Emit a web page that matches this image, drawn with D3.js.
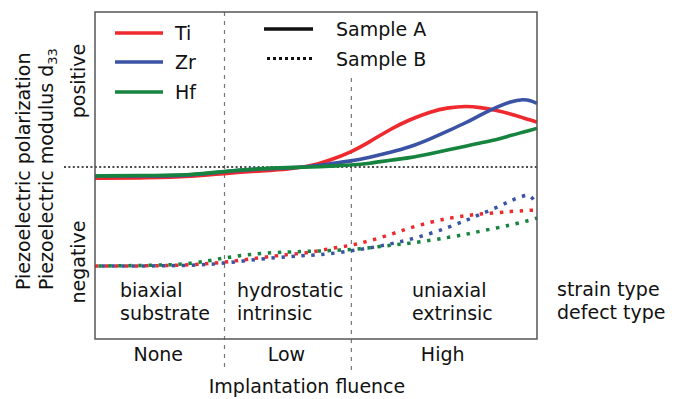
<!DOCTYPE html>
<html>
<head>
<meta charset="utf-8">
<script src="https://cdn.jsdelivr.net/npm/d3@7"></script>
<style>
  body { margin: 0; background: #fff; }
  text { font-family: "DejaVu Sans", Verdana, sans-serif; font-size: 19px; fill: #111; }
</style>
</head>
<body>
<div id="chart"></div>
<script>
// values (arbitrary units, 0 = sign change)
var fluence = [0, 12, 22, 29, 37, 44, 49, 53, 58, 62, 67, 71, 76, 80, 84, 87, 91, 94, 97, 98.5, 100];

var tiA = [-1.13, -1.1, -0.95, -0.65, -0.4, -0.2, 0.1, 0.65, 1.5, 2.48, 3.83, 4.7, 5.56, 5.95, 6.1, 5.97, 5.65, 5.3, 4.9, 4.7, 4.47];
var zrA = [-0.9, -0.9, -0.85, -0.45, -0.2, -0.1, 0.07, 0.32, 0.6, 0.96, 1.48, 1.95, 2.83, 3.63, 4.44, 5.16, 6.0, 6.55, 6.78, 6.64, 6.37];
var hfA = [-0.9, -0.85, -0.8, -0.45, -0.15, -0.05, 0, 0.08, 0.2, 0.35, 0.7, 0.9, 1.34, 1.72, 2.08, 2.4, 2.75, 3.15, 3.5, 3.68, 3.87];

var tiB = [-9.9, -9.9, -9.8, -9.55, -9.08, -8.73, -8.55, -8.15, -7.85, -7.4, -6.74, -6.11, -5.5, -5.12, -4.86, -4.7, -4.58, -4.45, -4.36, -4.33, -4.3];
var zrB = [-9.9, -9.9, -9.85, -9.65, -9.2, -8.96, -8.81, -8.7, -8.38, -8.12, -7.68, -7.28, -6.64, -6.04, -5.33, -4.76, -4.04, -3.36, -2.86, -2.73, -3.8];
var hfB = [-9.9, -9.85, -9.72, -9.07, -8.63, -8.5, -8.42, -8.37, -8.26, -8.08, -7.82, -7.64, -7.32, -7.04, -6.73, -6.43, -6.09, -5.79, -5.48, -5.3, -5.1];

var elements = ["Ti", "Zr", "Hf"];
var samples = ["Sample A", "Sample B"];
var boundaries = [29.3, 58];
var fluenceLevels = ["None", "Low", "High"];
var strainTypes = ["biaxial", "hydrostatic", "uniaxial"];
var defectTypes = ["substrate", "intrinsic", "extrinsic"];

var colors = { Ti: "#ee2a2f", Zr: "#3a53a4", Hf: "#16843f" };

var svgWidth = 678;
var svgHeight = 399;
var plotLeft = 95, plotRight = 537, plotTop = 12, plotBottom = 339;

var svg = d3.select("#chart")
  .append("svg")
  .attr("width", svgWidth)
  .attr("height", svgHeight);

var xScale = d3.scaleLinear().domain([0, 100]).range([plotLeft, plotRight]);
var yScale = d3.scaleLinear().domain([-17.2, 15.5]).range([plotBottom, plotTop]);

// section dividers
svg.selectAll(".divider")
  .data(boundaries)
  .enter()
  .append("line")
  .attr("class", "divider")
  .attr("x1", d => xScale(d))
  .attr("x2", d => xScale(d))
  .attr("y1", (d, i) => i === 0 ? plotTop : 78)
  .attr("y2", 372)
  .attr("stroke", "#777")
  .attr("stroke-width", 1.2)
  .attr("stroke-dasharray", "4,5");

// zero line
svg.append("line")
  .attr("x1", 64)
  .attr("x2", plotRight)
  .attr("y1", yScale(0))
  .attr("y2", yScale(0))
  .attr("stroke", "#111")
  .attr("stroke-width", 1.6)
  .attr("stroke-dasharray", "2,2.4");

var line = d3.line()
  .x((d, i) => xScale(fluence[i]))
  .y(d => yScale(d))
  .curve(d3.curveBasis);

var seriesB = [["Ti", tiB, 0], ["Zr", zrB, 3.3], ["Hf", hfB, 6.6]];
var seriesA = [["Ti", tiA], ["Zr", zrA], ["Hf", hfA]];

svg.selectAll(".lineB")
  .data(seriesB)
  .enter()
  .append("path")
  .attr("class", "lineB")
  .attr("d", d => line(d[1]))
  .attr("fill", "none")
  .attr("stroke", d => colors[d[0]])
  .attr("stroke-width", 3.5)
  .attr("stroke-dasharray", "3.4,6.6")
  .attr("stroke-dashoffset", d => d[2]);

svg.selectAll(".lineA")
  .data(seriesA)
  .enter()
  .append("path")
  .attr("class", "lineA")
  .attr("d", d => line(d[1]))
  .attr("fill", "none")
  .attr("stroke", d => colors[d[0]])
  .attr("stroke-width", 3.6);

// frame
svg.append("rect")
  .attr("x", plotLeft)
  .attr("y", plotTop)
  .attr("width", plotRight - plotLeft)
  .attr("height", plotBottom - plotTop)
  .attr("fill", "none")
  .attr("stroke", "#555")
  .attr("stroke-width", 1.5);

// fluence level labels under the frame
var mids = [0].concat(boundaries).map((b, i, arr) => ((i + 1 < arr.length ? arr[i + 1] : 100) + b) / 2);
var bottomAxis = d3.axisBottom(xScale)
  .tickValues(mids)
  .tickFormat((d, i) => fluenceLevels[i])
  .tickSize(0)
  .tickPadding(0);

svg.append("g")
  .attr("class", "bottomAxis")
  .attr("transform", "translate(-2," + 347 + ")")
  .call(bottomAxis)
  .call(g => g.select(".domain").remove())
  .selectAll("text")
  .attr("font-family", null)
  .attr("font-size", null)
  .attr("fill", null)
  .attr("dy", "0.71em");

svg.append("text")
  .attr("x", (plotLeft + plotRight) / 2 - 9)
  .attr("y", 393)
  .attr("text-anchor", "middle")
  .text("Implantation fluence");

// strain / defect type labels
var labelX = [120, 237, 412];
strainTypes.forEach(function(s, i) {
  svg.append("text").attr("x", labelX[i]).attr("y", 297).text(s);
  svg.append("text").attr("x", labelX[i]).attr("y", 320).text(defectTypes[i]);
});
svg.append("text").attr("x", 557).attr("y", 296).text("strain type");
svg.append("text").attr("x", 557).attr("y", 319).text("defect type");

// y titles
svg.append("text")
  .attr("transform", "translate(30,290)rotate(-90)")
  .text("Piezoelectric polarization");

var yt2 = svg.append("text")
  .attr("transform", "translate(53,290)rotate(-90)")
  .text("Piezoelectric modulus d");
yt2.append("tspan")
  .attr("font-size", "13px")
  .attr("dy", 4)
  .text("33");

svg.append("text")
  .attr("transform", "translate(85,81)rotate(-90)")
  .attr("text-anchor", "middle")
  .text("positive");
svg.append("text")
  .attr("transform", "translate(85,262)rotate(-90)")
  .attr("text-anchor", "middle")
  .text("negative");

// legend: elements
var legendY = [33, 62, 92];
elements.forEach(function(el, i) {
  svg.append("line")
    .attr("x1", 115).attr("x2", 163)
    .attr("y1", legendY[i]).attr("y2", legendY[i])
    .attr("stroke", colors[el])
    .attr("stroke-width", 3.6);
  svg.append("text")
    .attr("x", 175)
    .attr("y", legendY[i] + 6.5)
    .text(el);
});

// legend: samples
var sampleY = [29, 58.5];
samples.forEach(function(s, i) {
  svg.append("line")
    .attr("x1", i === 0 ? 264 : 267).attr("x2", i === 0 ? 313 : 315)
    .attr("y1", sampleY[i]).attr("y2", sampleY[i])
    .attr("stroke", "#111")
    .attr("stroke-width", i === 0 ? 3.4 : 3)
    .attr("stroke-dasharray", i === 0 ? null : "3,3");
  svg.append("text")
    .attr("x", 336)
    .attr("y", sampleY[i] + 7)
    .text(s);
});
</script>
</body>
</html>
